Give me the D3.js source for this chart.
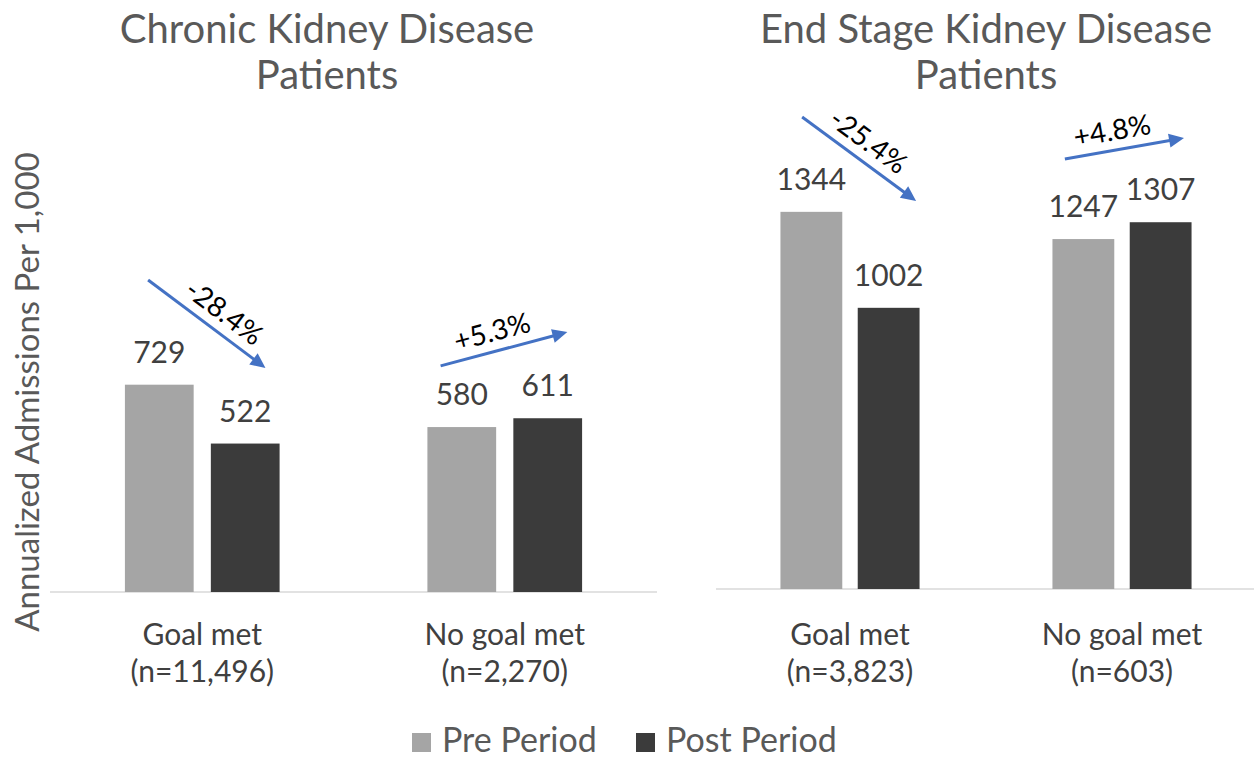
<!DOCTYPE html>
<html>
<head>
<meta charset="utf-8">
<script src="https://cdn.jsdelivr.net/npm/d3@7"></script>
<style>
  html, body { margin: 0; padding: 0; background: #ffffff; }
  svg { display: block; font-family: Lato, "Open Sans", sans-serif; }
</style>
</head>
<body>
<svg id="chart" width="1254" height="759"></svg>
<script>
// ---- data ----
const categories = ["Goal met", "No goal met"];
const series = ["Pre Period", "Post Period"];
const ckdCounts = ["(n=11,496)", "(n=2,270)"];
const eskdCounts = ["(n=3,823)", "(n=603)"];
const ckdPre = [729, 580];
const ckdPost = [522, 611];
const eskdPre = [1344, 1247];
const eskdPost = [1002, 1307];
const ckdChange = ["-28.4%", "+5.3%"];
const eskdChange = ["-25.4%", "+4.8%"];
const ckdTitle = ["Chronic Kidney Disease", "Patients"];
const eskdTitle = ["End Stage Kidney Disease", "Patients"];
const yTitle = "Annualized Admissions Per 1,000";

// ---- annotation arrow anchors (band fraction, value units, label shift along arrow) ----
const ckdArrows = [
  { f0: 0.321, v0: 1097, f1: 0.709, v1: 788, shift: 7 },
  { f0: 0.288, v0: 795, f1: 0.707, v1: 914, shift: -7 }
];
const eskdArrows = [
  { f0: 0.324, v0: 1682, f1: 0.743, v1: 1383, shift: -3 },
  { f0: 0.290, v0: 1532, f1: 0.728, v1: 1607, shift: -9 }
];

const colors = { "Pre Period": "#A5A5A5", "Post Period": "#3B3B3B" };
const svg = d3.select("#chart");

function drawPanel(cfg) {
  const g = svg.append("g");
  const x0 = d3.scaleBand().domain(categories).range([cfg.x0, cfg.x1]).padding(0);
  const x1 = d3.scaleBand().domain(series).range([0, x0.bandwidth()])
    .paddingInner(0.2).paddingOuter(0.86);
  const y = d3.scaleLinear().domain([0, 1600]).range([cfg.base, cfg.top]);

  // title
  const t = g.append("text")
    .attr("text-anchor", "middle")
    .attr("fill", "#595959")
    .style("font-size", "40px");
  cfg.title.forEach((line, i) => {
    t.append("tspan").attr("x", cfg.titleX)
      .attr("y", 43 + i * 46).text(line);
  });

  // baseline
  g.append("line")
    .attr("x1", cfg.lineX0).attr("x2", cfg.lineX1)
    .attr("y1", y(0)).attr("y2", y(0))
    .attr("stroke", "#D9D9D9").attr("stroke-width", 1.5);

  const rows = categories.map((c, i) => ({
    cat: c, count: cfg.counts[i],
    vals: [{ s: series[0], v: cfg.pre[i] }, { s: series[1], v: cfg.post[i] }]
  }));

  const grp = g.selectAll("g.cat").data(rows).join("g")
    .attr("class", "cat")
    .attr("transform", d => `translate(${x0(d.cat)},0)`);

  grp.selectAll("rect").data(d => d.vals).join("rect")
    .attr("x", d => x1(d.s))
    .attr("width", x1.bandwidth())
    .attr("y", d => y(d.v))
    .attr("height", d => y(0) - y(d.v))
    .attr("fill", d => colors[d.s]);

  grp.selectAll("text.val").data(d => d.vals).join("text")
    .attr("class", "val")
    .attr("x", d => x1(d.s) + x1.bandwidth() / 2)
    .attr("y", d => y(d.v) - 22)
    .attr("text-anchor", "middle")
    .attr("fill", "#404040")
    .style("font-size", "30px")
    .text(d => d.v);

  // category labels (two separate lines)
  grp.append("text")
    .attr("x", x0.bandwidth() / 2).attr("y", 645)
    .attr("text-anchor", "middle")
    .attr("fill", "#404040")
    .style("font-size", "30px")
    .text(d => d.cat);
  grp.append("text")
    .attr("x", x0.bandwidth() / 2).attr("y", 682)
    .attr("text-anchor", "middle")
    .attr("fill", "#404040")
    .style("font-size", "30px")
    .text(d => d.count);

  // arrows
  cfg.arrows.forEach((a, i) => {
    const cx = x0(categories[i]);
    const bw = x0.bandwidth();
    const sx = cx + a.f0 * bw, sy = y(a.v0);
    const ex = cx + a.f1 * bw, ey = y(a.v1);
    const ang = Math.atan2(ey - sy, ex - sx);
    const ux = Math.cos(ang), uy = Math.sin(ang);
    const headL = 15, headW = 7;
    g.append("line")
      .attr("x1", sx).attr("y1", sy)
      .attr("x2", ex - ux * (headL - 2)).attr("y2", ey - uy * (headL - 2))
      .attr("stroke", "#4472C4").attr("stroke-width", 3);
    const bx = ex - ux * headL, by = ey - uy * headL;
    g.append("path")
      .attr("d", `M${ex},${ey}L${bx - uy * headW},${by + ux * headW}L${bx + uy * headW},${by - ux * headW}Z`)
      .attr("fill", "#4472C4");
    const mx = (sx + ex) / 2, my = (sy + ey) / 2;
    const deg = ang * 180 / Math.PI;
    g.append("text")
      .attr("transform", `translate(${mx},${my}) rotate(${deg})`)
      .attr("x", a.shift).attr("y", -10)
      .attr("text-anchor", "middle")
      .attr("fill", "#000000")
      .style("font-size", "28px")
      .text(cfg.changes[i]);
  });
}

drawPanel({
  x0: 51, x1: 656, base: 592, top: 137, lineX0: 50, lineX1: 657, titleX: 327,
  title: ckdTitle, counts: ckdCounts, pre: ckdPre, post: ckdPost,
  arrows: ckdArrows, changes: ckdChange
});
drawPanel({
  x0: 714, x1: 1258, base: 589, top: 140, lineX0: 716, lineX1: 1254, titleX: 986,
  title: eskdTitle, counts: eskdCounts, pre: eskdPre, post: eskdPost,
  arrows: eskdArrows, changes: eskdChange
});

// y axis title
svg.append("text")
  .attr("transform", "translate(39,392) rotate(-90)")
  .attr("text-anchor", "middle")
  .attr("fill", "#595959")
  .style("font-size", "33px")
  .text(yTitle);

// legend
const legend = svg.append("g");
const legendItems = [
  { s: series[0], x: 412 },
  { s: series[1], x: 636 }
];
legendItems.forEach(d => {
  legend.append("rect").attr("x", d.x).attr("y", 733).attr("width", 19).attr("height", 19)
    .attr("fill", colors[d.s]);
  legend.append("text").attr("x", d.x + 30).attr("y", 752)
    .attr("fill", "#595959").style("font-size", "34px").text(d.s);
});
</script>
</body>
</html>
